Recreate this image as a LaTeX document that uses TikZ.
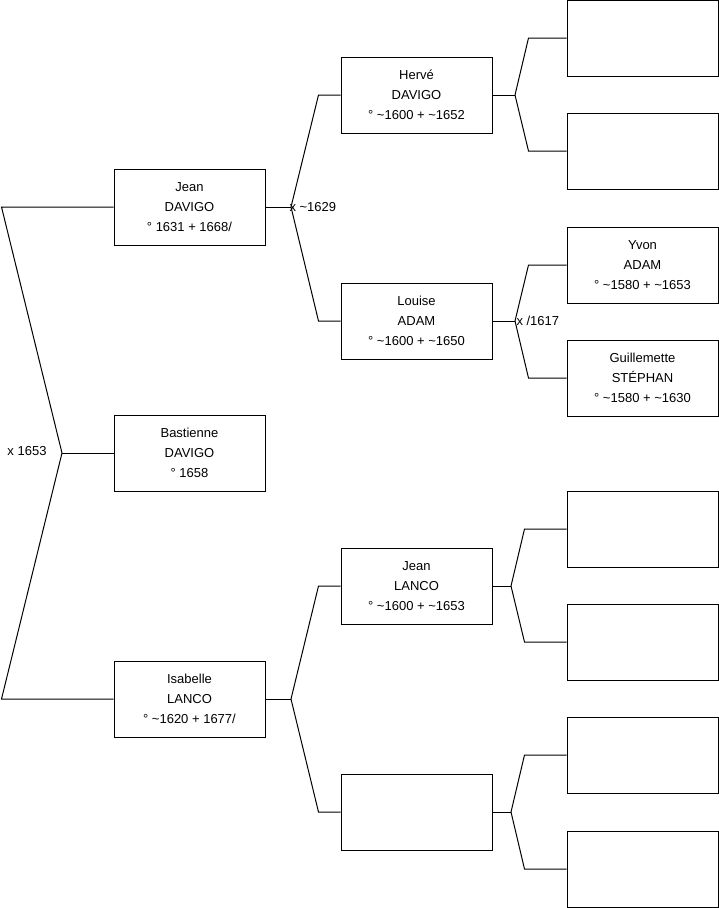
\documentclass[tikz,border=0pt]{standalone}
\usepackage{fontspec}
\setmainfont{Liberation Sans}
\begin{document}
\begin{tikzpicture}[x=1pt,y=-1pt,line width=1pt]
  \tikzstyle{person}=[draw, minimum width=151pt, minimum height=76pt, inner sep=0pt,
    align=center, font=\fontsize{13}{20}\selectfont]
  \tikzstyle{union}=[font=\fontsize{13}{15}\selectfont, inner sep=1pt]
  \useasboundingbox (0,0) rectangle (719,908);

  \node[person] (jean) at (189.5,207) {Jean\\DAVIGO\\° 1631 + 1668/};
  \node[person] (bastienne) at (189.5,453) {Bastienne\\DAVIGO\\° 1658};
  \node[person] (isabelle) at (189.5,699) {Isabelle\\LANCO\\° \textasciitilde1620 + 1677/};

  \node[person] (herve) at (416.5,95) {Hervé\\DAVIGO\\° \textasciitilde1600 + \textasciitilde1652};
  \node[person] (louise) at (416.5,321) {Louise\\ADAM\\° \textasciitilde1600 + \textasciitilde1650};
  \node[person] (jeanl) at (416.5,586) {Jean\\LANCO\\° \textasciitilde1600 + \textasciitilde1653};
  \node[person] (inconnu) at (416.5,812) {};

  \node[person] (herveF) at (642.5,38) {};
  \node[person] (herveM) at (642.5,151) {};
  \node[person] (yvon) at (642.5,265) {Yvon\\ADAM\\° \textasciitilde1580 + \textasciitilde1653};
  \node[person] (guillemette) at (642.5,378) {Guillemette\\STÉPHAN\\° \textasciitilde1580 + \textasciitilde1630};
  \node[person] (jeanlF) at (642.5,529) {};
  \node[person] (jeanlM) at (642.5,642) {};
  \node[person] (inconnuF) at (642.5,755) {};
  \node[person] (inconnuM) at (642.5,869) {};

  % unions
  \coordinate (u0) at (62,453);
  \coordinate (u1) at (291,207);
  \coordinate (u2) at (291,699);
  \coordinate (u3) at (515,95);
  \coordinate (u4) at (515,321);
  \coordinate (u5) at (511,586);
  \coordinate (u6) at (511,812);

  \draw (jean.west) -- ++(-112,0) -- (u0);
  \draw (isabelle.west) -- ++(-112,0) -- (u0);
  \draw (u0) -- (bastienne.west);
  \node[union, anchor=east] (m0) at (48,451) {x 1653};

  \draw (jean.east) -- (u1);
  \draw (herve.west) -- ++(-22,0) -- (u1);
  \draw (louise.west) -- ++(-22,0) -- (u1);
  \node[union, anchor=west, xshift=-3pt] (m1) at (u1) {x \textasciitilde1629};

  \draw (isabelle.east) -- (u2);
  \draw (jeanl.west) -- ++(-22,0) -- (u2);
  \draw (inconnu.west) -- ++(-22,0) -- (u2);

  \draw (herve.east) -- (u3);
  \draw (herveF.west) -- ++(-38,0) -- (u3);
  \draw (herveM.west) -- ++(-38,0) -- (u3);

  \draw (louise.east) -- (u4);
  \draw (yvon.west) -- ++(-38,0) -- (u4);
  \draw (guillemette.west) -- ++(-38,0) -- (u4);
  \node[union, anchor=west] (m4) at (u4) {x /1617};

  \draw (jeanl.east) -- (u5);
  \draw (jeanlF.west) -- ++(-42,0) -- (u5);
  \draw (jeanlM.west) -- ++(-42,0) -- (u5);

  \draw (inconnu.east) -- (u6);
  \draw (inconnuF.west) -- ++(-42,0) -- (u6);
  \draw (inconnuM.west) -- ++(-42,0) -- (u6);
\end{tikzpicture}
\end{document}
